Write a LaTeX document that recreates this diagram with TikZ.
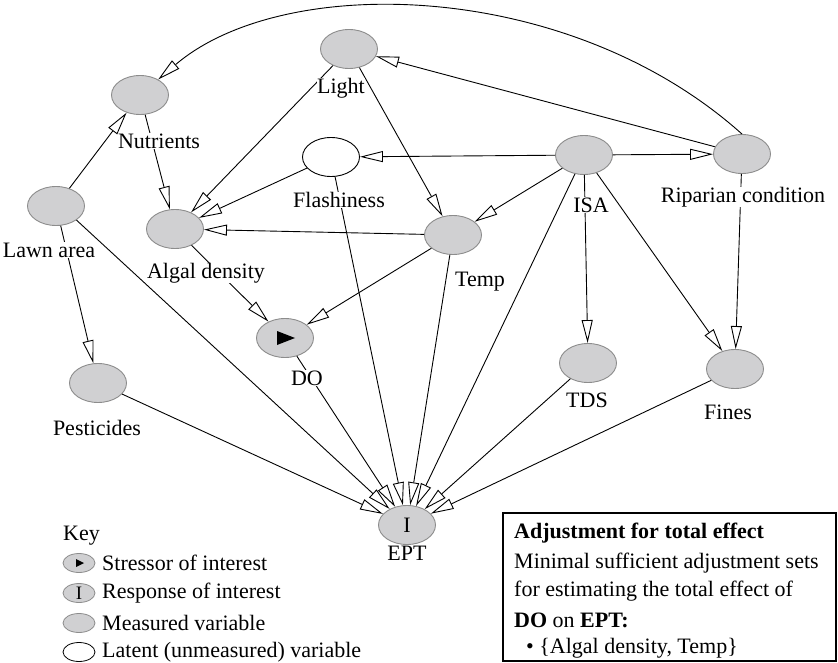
\documentclass[tikz,border=0pt]{standalone}
\usepackage{fontspec}
\setmainfont{Liberation Serif}
\usetikzlibrary{arrows.meta,shapes.geometric}
\definecolor{nodefill}{RGB}{208,208,210}
\definecolor{nodeline}{RGB}{140,140,140}
\begin{document}
\begin{tikzpicture}[x=1pt,y=-1pt,
  var/.style={ellipse, minimum width=57pt, minimum height=39pt, inner sep=0pt, draw=nodeline, fill=nodefill, line width=0.9pt},
  lat/.style={var, fill=white, draw=black},
  keyvar/.style={ellipse, minimum width=32pt, minimum height=19pt, inner sep=0pt, draw=nodeline, fill=nodefill, line width=0.8pt},
  keylat/.style={keyvar, fill=white, draw=black},
  lab/.style={font=\fontsize{22}{26}\selectfont, fill=white, inner sep=0.3pt},
  txt/.style={font=\fontsize{22}{26}\selectfont, inner sep=0pt, anchor=west},
  edge/.style={line width=0.9pt, -{Triangle[length=23pt,width=11pt,fill=white,line width=0.9pt]}}
]
\useasboundingbox (0,0) rectangle (838,663);

% variables
\node[var] (nut) at (140,95) {};
\node[var] (light) at (349,49) {};
\node[lat] (flash) at (331,157) {};
\node[var] (isa) at (584,155) {};
\node[var] (rip) at (742,154) {};
\node[var] (lawn) at (56,206) {};
\node[var] (algal) at (175,229) {};
\node[var] (temp) at (453,235) {};
\node[var] (do) at (285,338) {};
\node[var] (pest) at (98,383) {};
\node[var] (tds) at (588,363) {};
\node[var] (fines) at (735,369) {};
\node[var, font=\fontsize{22}{26}\selectfont] (ept) at (407,525) {I};
\fill (do.center) ++(-8,-7) -- ++(18,7) -- ++(-18,7) -- cycle;

% edges
\draw[edge] (rip.north) .. controls (569,-21) and (284,-28) .. (nut);
\draw[edge] (rip) -- (light);
\draw[edge] (isa) -- (rip);
\draw[edge] (isa) -- (flash);
\draw[edge] (isa) -- (temp);
\draw[edge] (isa) -- (tds);
\draw[edge] (isa) -- (fines);
\draw[edge] (isa) -- (ept);
\draw[edge] (rip) -- (fines);
\draw[edge] (light) -- (algal);
\draw[edge] (light) -- (temp);
\draw[edge] (flash) -- (algal);
\draw[edge] (flash) -- (ept);
\draw[edge] (temp) -- (algal);
\draw[edge] (temp) -- (do);
\draw[edge] (temp) -- (ept);
\draw[edge] (algal) -- (do);
\draw[edge] (do) -- (ept);
\draw[edge] (nut) -- (algal);
\draw[edge] (lawn) -- (nut);
\draw[edge] (lawn) -- (pest);
\draw[edge] (lawn.south east) -- (ept);
\draw[edge] (pest) -- (ept);
\draw[edge] (tds) -- (ept);
\draw[edge] (fines) -- (ept);

% labels
\node[lab] (nutl) at (159,141) {Nutrients};
\node[lab] (lightl) at (341,88) {Light};
\node[lab] (flashl) at (339,200) {Flashiness};
\node[lab] (isal) at (591,205) {ISA};
\node[lab] (ripl) at (743,197) {Riparian condition};
\node[lab] (lawnl) at (49,250) {Lawn area};
\node[lab] (algall) at (206,273) {Algal density};
\node[lab] (templ) at (480,282) {Temp};
\node[lab] (dol) at (307,378) {DO};
\node[lab] (pestl) at (97,428) {Pesticides};
\node[lab] (tdsl) at (587,400) {TDS};
\node[lab] (finesl) at (728,412) {Fines};
\node[lab] (eptl) at (407,553) {EPT};

% key
\node[txt] (keyt) at (63,536) {Key};
\node[keyvar] (k1) at (79,563) {};
\fill (k1.center) ++(-3,-4) -- ++(8,4) -- ++(-8,4) -- cycle;
\node[txt] (k1t) at (102,563) {Stressor of interest};
\node[keyvar, font=\fontsize{19}{21}\selectfont] (k2) at (79,593) {I};
\node[txt] (k2t) at (102,593) {Response of interest};
\node[keyvar] (k3) at (79,623) {};
\node[txt] (k3t) at (102,623) {Measured variable};
\node[keylat] (k4) at (79,652) {};
\node[txt] (k4t) at (102,652) {Latent (unmeasured) variable};

% adjustment box
\draw[line width=1.3pt] (503,513) rectangle (836,661);
\node[txt] (b1) at (514,533) {\bfseries Adjustment for total effect};
\node[txt] (b2) at (514,563) {Minimal sufficient adjustment sets};
\node[txt] (b3) at (514,591) {for estimating the total effect of};
\node[txt] (b4) at (514,620) {\bfseries DO\mdseries{} on \bfseries EPT:};
\node[txt] (b5) at (526,648) {\textbullet\ \{Algal density, Temp\}};
\end{tikzpicture}
\end{document}
